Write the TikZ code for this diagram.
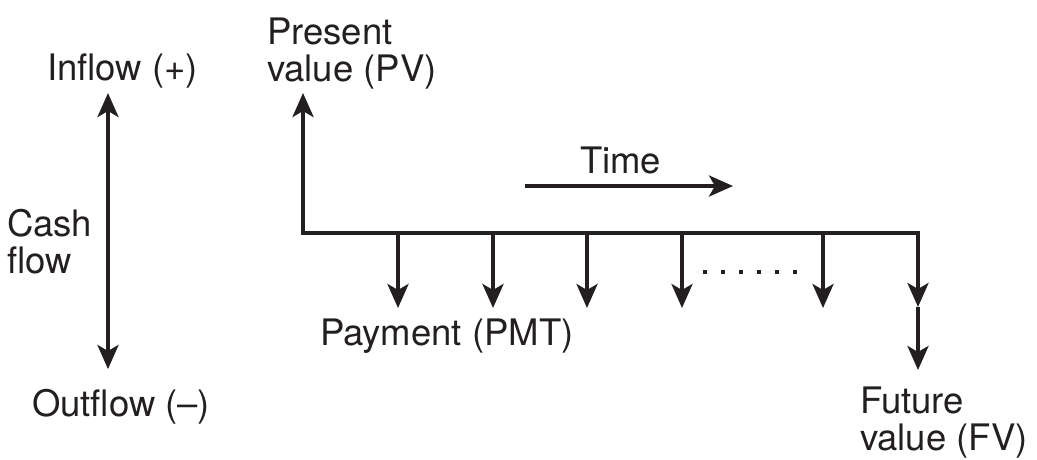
\documentclass[tikz,border=0pt]{standalone}
\usepackage{fontspec}
\setmainfont{TeX Gyre Heros}
\usetikzlibrary{arrows.meta}
\definecolor{ink}{HTML}{231F20}
\begin{document}
\begin{tikzpicture}[x=1pt,y=-1pt,
  lbl/.style={inner sep=0pt, outer sep=0pt, text=ink, font=\fontsize{36.5}{37}\selectfont, align=left},
  ln/.style={draw=ink, line width=3.8pt},
  arr/.style={ln, -{Stealth[length=24pt,width=21pt,inset=6pt]}},
  darr/.style={ln, {Stealth[length=24pt,width=21pt,inset=6pt]}-{Stealth[length=24pt,width=21pt,inset=6pt]}}]
\useasboundingbox (0,0) rectangle (1037,459);
% labels (multi-line nodes are anchored at the baseline of their last line)
\node[lbl, anchor=base west] (inflow) at (47,80) {Inflow (+)};
\node[lbl, anchor=base west] (outflow) at (32,416) {Outflow (–)};
\node[lbl, anchor=base west] (cash) at (7,273) {Cash\\flow};
\node[lbl, anchor=base west] (pv) at (267,81) {Present\\value (PV)};
\node[lbl, anchor=base west] (time) at (580,173) {Time};
\node[lbl, anchor=base west] (pmt) at (320,345) {Payment (PMT)};
\node[lbl, anchor=base west] (fv) at (860,450) {Future\\value (FV)};
% coordinates
\coordinate (cftop) at (108,93);
\coordinate (cfbot) at (108,369);
\coordinate (o) at (303,233);
\coordinate (pvtip) at (303,93);
\coordinate (e) at (918,233);
\coordinate (fvmid) at (918,307);
\coordinate (fvtip) at (918,370);
\coordinate (ts) at (525,186);
\coordinate (te) at (733,186);
\foreach \i/\x in {1/398,2/493,3/587,4/682,5/823}{
  \coordinate (p\i) at (\x,233);
  \coordinate (q\i) at (\x,308);
}
% connectors
\draw[darr] (cfbot) -- (cftop);
\draw[ln, line cap=rect] (o) -- (e);
\draw[arr] (o) -- (pvtip);
\foreach \i in {1,...,5}{ \draw[arr] (p\i) -- (q\i); }
\draw[arr] (e) -- (fvmid);
\draw[arr] (fvmid) -- (fvtip);
\draw[arr] (ts) -- (te);
% dots
\foreach \k in {0,...,5}{
  \fill[ink] (705+18*\k-2,270) rectangle (705+18*\k+2,274);
}
\end{tikzpicture}
\end{document}
